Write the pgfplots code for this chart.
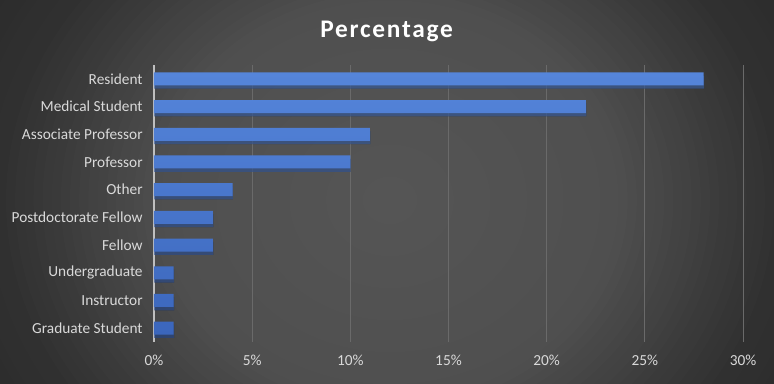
\documentclass[border=0pt]{standalone}
\usepackage{pgfplots}
\pgfplotsset{compat=1.18}
\usepackage{fontspec}
\setmainfont{Carlito}
\newfontfamily\titlefont[LetterSpace=7]{Carlito}
\usetikzlibrary{shadows}
\definecolor{tickcol}{HTML}{D9D9D9}
\definecolor{gridcol}{HTML}{6A6A6A}
\definecolor{bartop}{HTML}{5585DA}
\definecolor{barbot}{HTML}{3B66BC}
\begin{document}
\begin{tikzpicture}
\path[use as bounding box] (0,0) rectangle (580.5pt,287.25pt);
\begin{scope}
\clip (0,0) rectangle (580.5pt,287.25pt);
\fill[black!87] (0,0) rectangle (580.5pt,287.25pt);
\foreach \i in {70,69,...,1}{
  \pgfmathsetmacro\r{\i/70}
  \pgfmathsetmacro\g{\r<0.36 ? 0.335-0.025*\r/0.36 : (\r<0.61 ? 0.31-0.12*(\r-0.36)/0.25 : 0.19-0.06*(\r-0.61)/0.39)}
  \definecolor{bgc}{gray}{\g}
  \fill[bgc] (292.5pt,137pt) ellipse [x radius={\r*480pt}, y radius={\r*420pt}];
}
\end{scope}
\node[font=\titlefont\bfseries\fontsize{19}{22}\selectfont, text=white] at (290pt,264pt) {Percentage};
\begin{axis}[
  at={(115.5pt,30.75pt)}, anchor=south west,
  scale only axis, width=441.75pt, height=207.75pt,
  xbar, bar width=9.75pt,
  xmin=0, xmax=30, ymin=-0.5, ymax=9.5,
  xtick={0,5,10,15,20,25,30},
  xticklabels={0\%,5\%,10\%,15\%,20\%,25\%,30\%},
  ytick=data,
  yticklabels={Graduate Student,Instructor,Undergraduate,Fellow,Postdoctorate Fellow,Other,Professor,Associate Professor,Medical Student,Resident},
  xmajorgrids, grid style={gridcol, line width=0.6pt},
  axis x line*=bottom, axis y line*=left,
  x axis line style={draw=none},
  y axis line style={draw=black!25, line width=0.9pt, -},
  major tick length=0pt,
  tick label style={text=tickcol, font=\fontsize{11.5}{13}\selectfont},
  xticklabel style={yshift=-6.5pt},
  yticklabel style={xshift=-5pt},
  clip=false,
]
\addplot[draw=none, top color=bartop, bottom color=barbot,
  drop shadow={shadow xshift=0.3pt, shadow yshift=-2.5pt, opacity=0.5, fill=black}]
  coordinates {(1,0) (1,1) (1,2) (3,3) (3,4) (4,5) (10,6) (11,7) (22,8) (28,9)};
\end{axis}
\end{tikzpicture}
\end{document}
